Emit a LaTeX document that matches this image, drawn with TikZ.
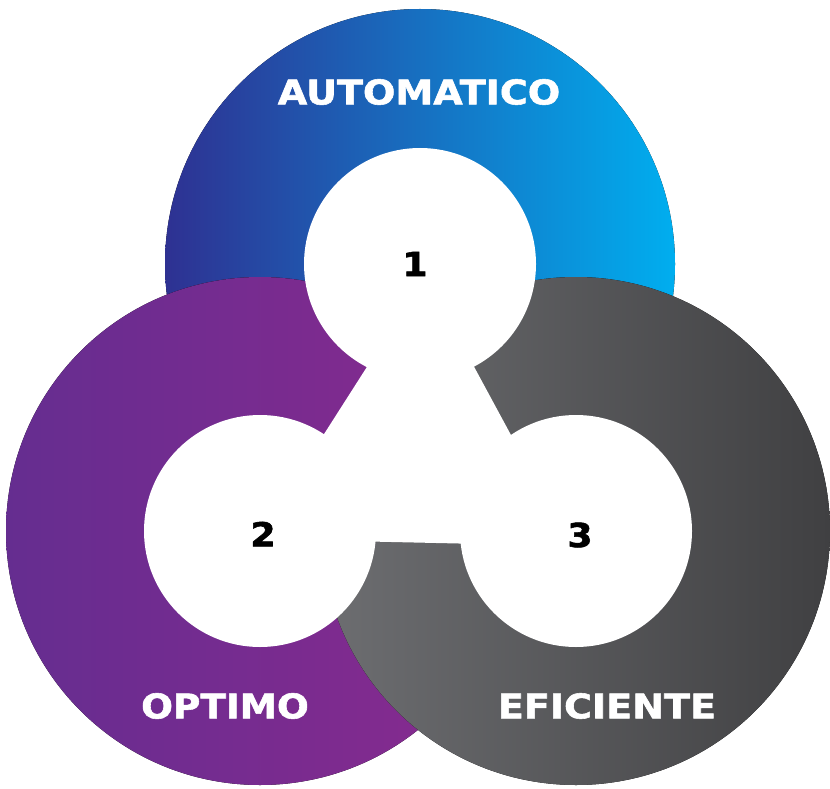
\documentclass[tikz,border=0pt]{standalone}
\usepackage{fontspec}
\setmainfont{DejaVu Sans}
\newfontfamily\heavyfont[BoldFeatures={FakeBold=1.6}]{DejaVu Sans}
\definecolor{blueL}{HTML}{2E3192}
\definecolor{blueR}{HTML}{00AEEF}
\definecolor{purpL}{HTML}{652D90}
\definecolor{purpR}{HTML}{8A2A8F}
\definecolor{grayL}{HTML}{6D6E71}
\definecolor{grayR}{HTML}{404042}
\begin{document}
\begin{tikzpicture}[x=1pt,y=-1pt,
    ringlabel/.style={text=white,font=\fontsize{34}{34}\selectfont\heavyfont\bfseries},
    ringnum/.style={text=black,font=\fontsize{33}{33}\selectfont\heavyfont\bfseries}]
  \useasboundingbox (0,0) rectangle (830,789);

  \coordinate (c1) at (420,264);
  \coordinate (c2) at (260,531);
  \coordinate (c3) at (576,531);

  % the three rings, back to front
  \fill[left color=blueL, right color=blueR] (c1) circle (255);
  \fill[left color=purpL, right color=purpR] (c2) circle (254);
  \fill[left color=grayL, right color=grayR] (c3) circle (254);

  % white middle
  \fill[white] (425,276) -- (257,539) -- (571,546) -- cycle;
  \foreach \c in {c1,c2,c3}
    \fill[white] (\c) circle (116);

  \node[ringlabel] (auto) at (419,92) {\scalebox{1.12}[1]{AUTOMATICO}};
  \node[ringlabel] (opt) at (225,706) {\scalebox{1.1}[1]{OPTIMO}};
  \node[ringlabel] (efi) at (607,706) {\scalebox{1.12}[1]{EFICIENTE}};

  \node[ringnum] (n1) at (415,264) {\scalebox{1.1}[1]{1}};
  \node[ringnum] (n2) at (263,534) {\scalebox{1.1}[1]{2}};
  \node[ringnum] (n3) at (580,535) {\scalebox{1.1}[1]{3}};
\end{tikzpicture}
\end{document}
